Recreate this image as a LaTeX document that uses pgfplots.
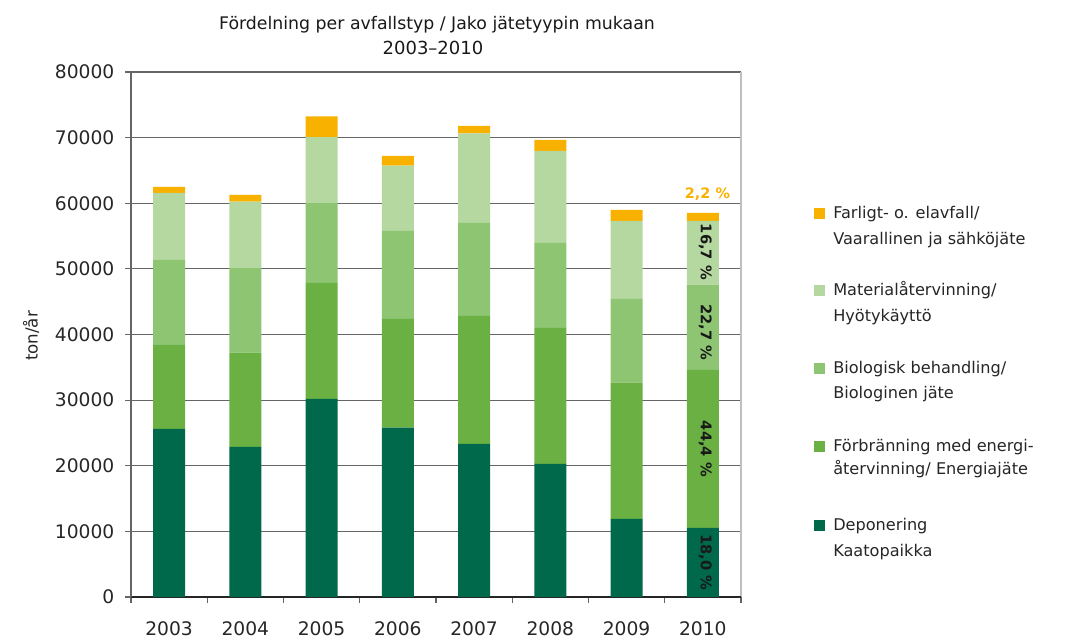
\documentclass[border=0pt]{standalone}
\usepackage{pgfplots}
\usepackage{pgfplotstable}
\pgfplotsset{compat=1.18}
\usepackage{fontspec}
\setmainfont{DejaVu Sans}
\definecolor{cdepo}{HTML}{00694B}
\definecolor{cenergy}{HTML}{6AB043}
\definecolor{cbio}{HTML}{8EC572}
\definecolor{cmat}{HTML}{B4D8A0}
\definecolor{cfarl}{HTML}{F9B100}
\definecolor{cgrid}{HTML}{656565}

\pgfplotstableread{
x depo energy bio mat farl
0 25600 12800 12970 10210 920
1 22870 14370 12860 10160 1020
2 30180 17690 12140 10070 3140
3 25810 16570 13410 9960 1480
4 23320 19520 14170 13620 1170
5 20270 20740 12950 14030 1670
6 11890 20780 12760 11890 1670
7 10520 24080 13010 9710 1220
}\datatable

\begin{document}
\begin{tikzpicture}
\path[use as bounding box] (0,0) rectangle (798.75pt,479.25pt);
\begin{axis}[
  at={(98.25pt,31.5pt)}, anchor=south west,
  scale only axis, width=457.5pt, height=393.75pt,
  ybar stacked, bar width=24pt,
  xmin=-0.5, xmax=7.5, ymin=0, ymax=80000,
  xtick={0,...,7},
  xticklabels={2003,2004,2005,2006,2007,2008,2009,2010},
  minor xtick={-0.5,0.5,...,7.5},
  ytick={0,10000,...,80000},
  xtick pos=bottom, ytick pos=left,
  tick align=outside,
  major tick length=4.5pt, minor tick length=4.5pt,
  x tick style={draw=none},
  minor x tick style={draw=cgrid, line width=0.9pt},
  y tick style={draw=cgrid, line width=0.9pt},
  axis line style={draw=none},
  ymajorgrids,
  grid style={draw=cgrid, line width=0.9pt},
  scaled y ticks=false,
  /pgf/number format/1000 sep={},
  /pgf/number format/assume math mode=true,
  yticklabel style={font=\fontsize{14}{16}\selectfont, text=black!85, xshift=-4.5pt},
  xticklabel style={font=\fontsize{14}{16}\selectfont, text=black!85, yshift=-10.5pt},
  clip=false,
]
\addplot[fill=cdepo, draw=none] table[x=x,y=depo]{\datatable};
\addplot[fill=cenergy, draw=none] table[x=x,y=energy]{\datatable};
\addplot[fill=cbio, draw=none] table[x=x,y=bio]{\datatable};
\addplot[fill=cmat, draw=none] table[x=x,y=mat]{\datatable};
\addplot[fill=cfarl, draw=none] table[x=x,y=farl]{\datatable};
\draw[cgrid, line width=1pt] (rel axis cs:0,0) -- (rel axis cs:0,1);
\draw[black!85, line width=1pt] (rel axis cs:0,0) -- (rel axis cs:1,0);
\draw[black!25, line width=1pt] (rel axis cs:1,0) -- (rel axis cs:1,1);
\coordinate (p1) at (axis cs:7.03,5260);
\coordinate (p2) at (axis cs:7.03,22560);
\coordinate (p3) at (axis cs:7.03,40300);
\coordinate (p4) at (axis cs:7.03,52600);
\coordinate (p5) at (axis cs:7.06,61400);
\end{axis}
\begin{scope}[font=\bfseries\fontsize{11}{13}\selectfont, text=black!90]
\node[rotate=-90] at (p1) {18,0 \%};
\node[rotate=-90] at (p2) {44,4 \%};
\node[rotate=-90] at (p3) {22,7 \%};
\node[rotate=-90] at (p4) {16,7 \%};
\end{scope}
\node[font=\bfseries\fontsize{10.8}{13}\selectfont, text=cfarl] at (p5) {2,2 \%};
\begin{scope}[x=0.75pt, y=-0.75pt, yshift=479.25pt]
% title
\node[anchor=base, font=\fontsize{13}{15}\selectfont, text=black!90] at (437,29.5) {Fördelning per avfallstyp / Jako jätetyypin mukaan};
\node[anchor=base, font=\fontsize{13.5}{15}\selectfont, text=black!90] at (433,55) {2003–2010};
% y label
\node[rotate=90, font=\fontsize{12.5}{14}\selectfont, text=black!85] at (31,336) {ton/år};
% legend
\begin{scope}[font=\fontsize{12.1}{14}\selectfont, text=black!85]
\fill[cfarl] (814,208) rectangle (825,219);
\node[anchor=base west, inner sep=0pt] at (833,219) {Farligt- o. elavfall/};
\node[anchor=base west, inner sep=0pt] at (833,245) {Vaarallinen ja sähköjäte};
\fill[cmat] (814,285) rectangle (825,296);
\node[anchor=base west, inner sep=0pt] at (833,296) {Materialåtervinning/};
\node[anchor=base west, inner sep=0pt] at (833,322) {Hyötykäyttö};
\fill[cbio] (814,363) rectangle (825,374);
\node[anchor=base west, inner sep=0pt] at (833,374) {Biologisk behandling/};
\node[anchor=base west, inner sep=0pt] at (833,399) {Biologinen jäte};
\fill[cenergy] (814,441) rectangle (825,452);
\node[anchor=base west, inner sep=0pt] at (833,452) {Förbränning med energi-};
\node[anchor=base west, inner sep=0pt] at (833,475) {återvinning/ Energiajäte};
\fill[cdepo] (814,520) rectangle (825,531);
\node[anchor=base west, inner sep=0pt] at (833,531) {Deponering};
\node[anchor=base west, inner sep=0pt] at (833,557) {Kaatopaikka};
\end{scope}
\end{scope}
\end{tikzpicture}
\end{document}
